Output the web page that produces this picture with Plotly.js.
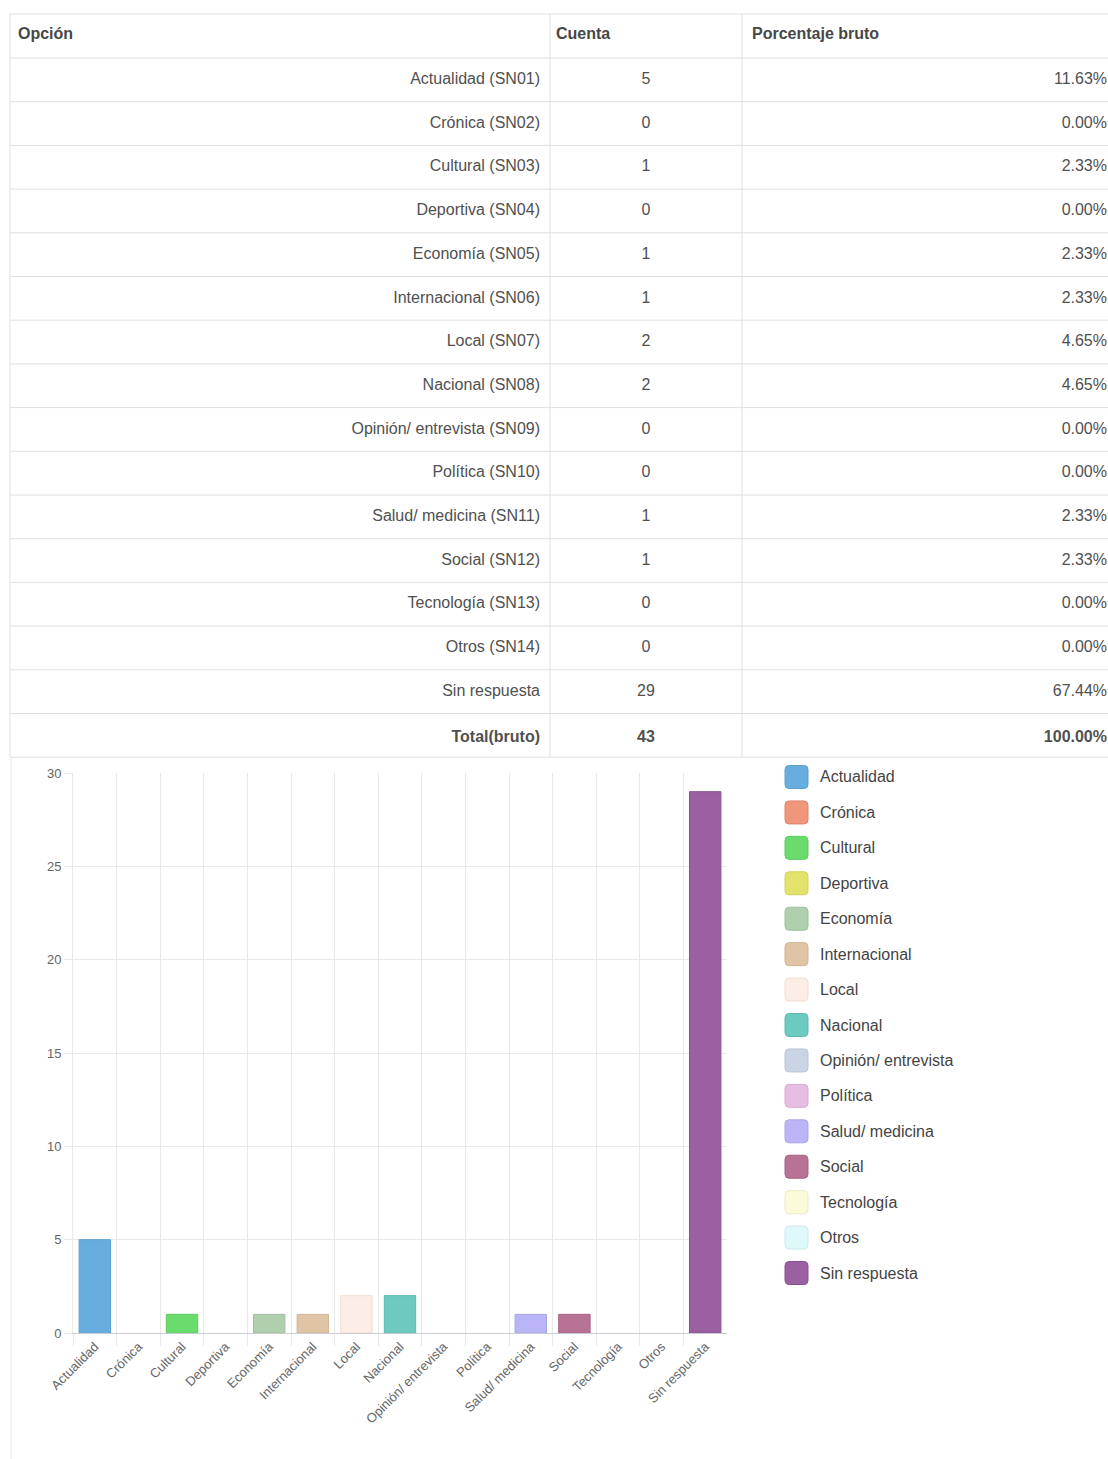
<!DOCTYPE html>
<html>
<head>
<meta charset="utf-8">
<script src="https://cdn.plot.ly/plotly-3.0.1.min.js"></script>
<style>
html,body{margin:0;padding:0;background:#fff;overflow:hidden;}
#chart{width:1130px;height:1459px;}
</style>
</head>
<body>
<div id="chart"></div>
<script>
// ---- data ----
const optionLabels = ["Actualidad (SN01)","Crónica (SN02)","Cultural (SN03)","Deportiva (SN04)","Economía (SN05)","Internacional (SN06)","Local (SN07)","Nacional (SN08)","Opinión/ entrevista (SN09)","Política (SN10)","Salud/ medicina (SN11)","Social (SN12)","Tecnología (SN13)","Otros (SN14)","Sin respuesta"];
const counts = [5,0,1,0,1,1,2,2,0,0,1,1,0,0,29];
const percents = ["11.63%","0.00%","2.33%","0.00%","2.33%","2.33%","4.65%","4.65%","0.00%","0.00%","2.33%","2.33%","0.00%","0.00%","67.44%"];
const totalLabel = "Total(bruto)";
const totalCount = 43;
const totalPercent = "100.00%";
const headers = ["Opción","Cuenta","Porcentaje bruto"];
const categories = ["Actualidad","Crónica","Cultural","Deportiva","Economía","Internacional","Local","Nacional","Opinión/ entrevista","Política","Salud/ medicina","Social","Tecnología","Otros","Sin respuesta"];
const colors = ["#67aedf","#f0967b","#6bdb6d","#e3e36b","#afcfad","#dfc5a6","#fcede6","#6ccac1","#c9d4e5","#e6bde3","#b9b5f7","#b87394","#fbfad9","#dff8fa","#9b60a1"];
const borders = ["#5a9fd0","#e08468","#5ccb5e","#d3d35c","#9fbf9d","#cfb596","#f3ded5","#5cbab1","#b9c4d5","#d6add3","#a9a5e7","#a86384","#ecebc9","#cfe8ea","#8b5091"];

// ---- geometry helpers (pixels -> paper) ----
const W = 1130, H = 1459;
const px = v => v / W;
const py = v => 1 - v / H;

const bold = s => "<b>" + s + "</b>";
const col1 = optionLabels.concat([bold(totalLabel)]);
const col2 = counts.map(String).concat([bold(String(totalCount))]);
const col3 = percents.concat([bold(totalPercent)]);

const FONT = "Liberation Sans, Arial, sans-serif";
const rowH = 43.7, headH = 44, tableTop = 14, tableLeft = 10;
const nRows = col1.length;

const table = {
  type: "table",
  domain: {x: [px(tableLeft), px(1115)], y: [py(768), py(tableTop + 3)]},
  columnwidth: [538, 196, 371],
  header: {
    values: headers.map(bold),
    align: "left",
    height: 47,
    font: {family: FONT, size: 16, color: "#474747"},
    fill: {color: "#ffffff"},
    line: {color: "rgba(0,0,0,0)", width: 0}
  },
  cells: {
    values: [col1, col2, col3],
    align: ["right", "center", "right"],
    height: rowH,
    font: {family: FONT, size: 16, color: "#505050"},
    fill: {color: "#ffffff"},
    line: {color: "rgba(0,0,0,0)", width: 0}
  }
};

const bars = {
  type: "bar",
  x: categories,
  y: counts,
  marker: {color: colors, line: {color: borders, width: counts.map(v => v > 0 ? 1 : 0)}},
  hoverinfo: "x+y",
  showlegend: false
};

const shapes = [];
const annotations = [];
// table rules
const tableBottom = tableTop + headH + nRows * rowH;
const hLines = [tableTop, tableTop + headH];
for (let k = 1; k <= nRows; k++) hLines.push(tableTop + headH + k * rowH);
hLines.forEach(y => shapes.push({type: "line", xref: "paper", yref: "paper",
  x0: px(tableLeft), x1: px(1130), y0: py(y), y1: py(y), line: {color: "#e0e0e0", width: 1}}));
[tableLeft, 550, 742].forEach(x => shapes.push({type: "line", xref: "paper", yref: "paper",
  x0: px(x), x1: px(x), y0: py(tableBottom), y1: py(tableTop), line: {color: "#e0e0e0", width: 1}}));
// container left border below the table
shapes.push({type: "line", xref: "paper", yref: "paper", x0: px(11), x1: px(11), y0: 0, y1: py(tableBottom),
  line: {color: "#e3e3e3", width: 1}});

// custom legend built from categories & colors
const legTop = 777, legStep = 35.43, sw = 23, sx = 785, r = 4;
categories.forEach((c, i) => {
  const yc = legTop + i * legStep;
  const x0 = sx, x1 = sx + sw, y0 = yc - sw / 2, y1 = yc + sw / 2;
  const P = (x, y) => px(x) + "," + py(y);
  const path = "M" + P(x0 + r, y0) + " L" + P(x1 - r, y0) + " Q" + P(x1, y0) + " " + P(x1, y0 + r) +
    " L" + P(x1, y1 - r) + " Q" + P(x1, y1) + " " + P(x1 - r, y1) +
    " L" + P(x0 + r, y1) + " Q" + P(x0, y1) + " " + P(x0, y1 - r) +
    " L" + P(x0, y0 + r) + " Q" + P(x0, y0) + " " + P(x0 + r, y0) + " Z";
  shapes.push({type: "path", xref: "paper", yref: "paper", path: path,
    fillcolor: colors[i], line: {color: borders[i], width: 1}});
  annotations.push({xref: "paper", yref: "paper", x: px(818), y: py(yc),
    xanchor: "left", yanchor: "middle", showarrow: false, text: c,
    font: {family: FONT, size: 16, color: "#444"}});
});

const grid = "#e8e8e8";
const layout = {
  width: W, height: H,
  margin: {l: 0, r: 0, t: 0, b: 0},
  paper_bgcolor: "#fff", plot_bgcolor: "#fff",
  font: {family: FONT},
  bargap: 0.28,
  xaxis: {
    domain: [px(73), px(727)],
    type: "category",
    tickangle: -45,
    tickfont: {size: 13, color: "#666"},
    showgrid: true, gridcolor: grid,
    tickson: "boundaries",
    ticks: "outside", ticklen: 12, tickcolor: grid,
    showline: true, linecolor: "#c9ced6", linewidth: 1,
    zeroline: false, fixedrange: true
  },
  yaxis: {
    domain: [py(1333), py(773)],
    range: [0, 30],
    dtick: 5,
    tickfont: {size: 13, color: "#666"},
    showgrid: true, gridcolor: grid,
    ticks: "outside", ticklen: 8, tickcolor: grid,
    showline: true, linecolor: grid,
    zeroline: false, fixedrange: true
  },
  shapes: shapes,
  annotations: annotations
};

Plotly.newPlot("chart", [table, bars], layout, {displayModeBar: false});
</script>
</body>
</html>
